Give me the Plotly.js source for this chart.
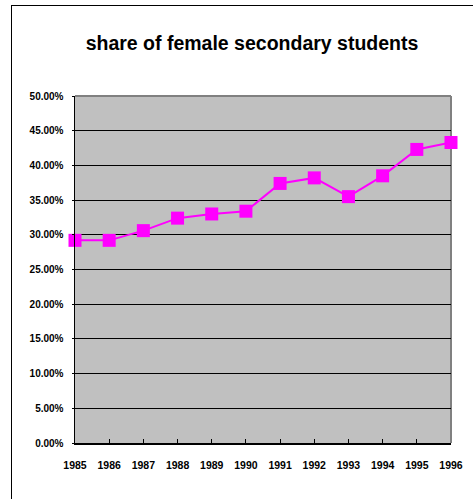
<!DOCTYPE html>
<html>
<head>
<meta charset="utf-8">
<script src="https://cdn.plot.ly/plotly-3.0.1.min.js"></script>
<style>
  html, body { margin: 0; padding: 0; background: #ffffff; }
  #chart { position: absolute; left: 0; top: 0; width: 473px; height: 499px; }
  #frame { position: absolute; left: 11px; top: 5px; width: 480px; height: 520px;
           border-left: 1px solid #000; border-top: 1px solid #000; pointer-events: none; }
</style>
</head>
<body>
<div id="chart"></div>
<div id="frame"></div>
<script>
const years = [1985, 1986, 1987, 1988, 1989, 1990, 1991, 1992, 1993, 1994, 1995, 1996];
const femaleShare = [0.292, 0.292, 0.306, 0.324, 0.330, 0.334, 0.374, 0.382, 0.355, 0.385, 0.423, 0.433];
const yTicks = [0, 0.05, 0.10, 0.15, 0.20, 0.25, 0.30, 0.35, 0.40, 0.45, 0.50];
const chartTitle = "share of female secondary students";

const trace = {
  x: years,
  y: femaleShare,
  type: 'scatter',
  mode: 'lines+markers',
  line: { color: '#FF00FF', width: 2 },
  marker: { symbol: 'square', size: 13, color: '#FF00FF' },
  cliponaxis: false,
  hoverinfo: 'x+y'
};

const tickFont = { family: 'Liberation Sans, Arial, sans-serif', size: 10, color: '#000', weight: 'bold' };

const layout = {
  width: 473,
  height: 499,
  margin: { l: 75, r: 22, t: 96, b: 56 },
  paper_bgcolor: '#ffffff',
  plot_bgcolor: '#C0C0C0',
  showlegend: false,
  title: {
    text: chartTitle,
    font: { family: 'Liberation Sans, Arial, sans-serif', size: 19.5, color: '#000', weight: 'bold' },
    xref: 'container',
    x: 252 / 473, xanchor: 'center',
    y: 1 - 43 / 499, yanchor: 'middle'
  },
  xaxis: {
    type: 'linear',
    range: [years[0], years[years.length - 1]],
    tickvals: years,
    ticktext: years.map(String),
    tickfont: Object.assign({}, tickFont, { size: 10.5 }),
    ticks: 'inside',
    ticklen: 4,
    tickcolor: '#000',
    showgrid: false,
    zeroline: false,
    showline: true,
    linecolor: '#000',
    linewidth: 1.5,
    ticklabelstandoff: 12,
    fixedrange: true
  },
  yaxis: {
    range: [0, 0.5],
    tickvals: yTicks,
    tickformat: '.2%',
    tickfont: tickFont,
    ticks: 'outside',
    ticklen: 2,
    tickcolor: '#000',
    showgrid: true,
    gridcolor: '#000',
    gridwidth: 1,
    zeroline: false,
    showline: true,
    linecolor: '#000',
    linewidth: 1.5,
    ticklabelstandoff: 6,
    fixedrange: true
  },
  shapes: [
    { type: 'line', xref: 'paper', yref: 'paper', x0: 0, x1: 1, y0: 1, y1: 1,
      line: { color: '#808080', width: 2 }, layer: 'above' },
    { type: 'line', xref: 'paper', yref: 'paper', x0: 1, x1: 1, y0: 0, y1: 1,
      line: { color: '#808080', width: 2 }, layer: 'below' }
  ]
};

Plotly.newPlot('chart', [trace], layout, { displayModeBar: false, staticPlot: true });
</script>
</body>
</html>
